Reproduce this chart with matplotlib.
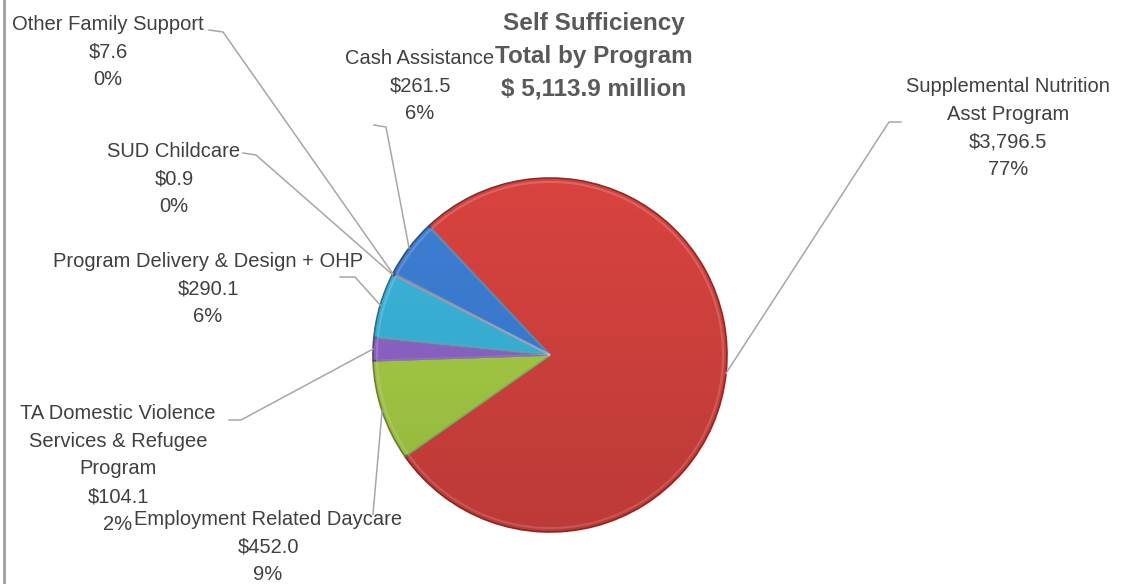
import numpy as np
import matplotlib.pyplot as plt
from matplotlib.patches import Circle
from matplotlib.colors import to_rgb

plt.rcParams['font.family'] = ['Liberation Sans', 'DejaVu Sans']

# ----- data -----
programs = ['Supplemental Nutrition\nAsst Program', 'Employment Related Daycare',
            'TA Domestic Violence\nServices & Refugee\nProgram', 'Program Delivery & Design + OHP',
            'SUD Childcare', 'Other Family Support', 'Cash Assistance']
amounts = [3796.5, 452.0, 104.1, 290.1, 0.9, 7.6, 261.5]
amount_labels = ['$3,796.5', '$452.0', '$104.1', '$290.1', '$0.9', '$7.6', '$261.5']
pct_labels = ['77%', '9%', '2%', '6%', '0%', '0%', '6%']
colours = ['#d8433f', '#a9d046', '#9066cc', '#3bb6dd', '#7fb2d0', '#4f86c6', '#3d80d6']
title = 'Self Sufficiency\nTotal by Program\n$ 5,113.9 million'

W, H = 1131, 584
def py(y):
    return H - y

fig = plt.figure(figsize=(W / 100, H / 100), dpi=100)
ax = fig.add_axes([0, 0, 1, 1])

cx, cy, r = 550, py(355), 177
wedges, _ = ax.pie(amounts, colors=colours, startangle=133.2, counterclock=False,
                   center=(cx, cy), radius=r,
                   wedgeprops=dict(linewidth=1.2, edgecolor='#5a5a5a'))
for w, c in zip(wedges, colours):
    dark = tuple(v * 0.65 for v in to_rgb(c))
    w.set_edgecolor(dark)

# soft shading over the pie (darker towards the bottom)
grad = np.linspace(0, 1, 256)
shade = np.zeros((256, 1, 4))
shade[:, 0, 3] = grad * 0.13
im = ax.imshow(shade, extent=(cx - r, cx + r, cy - r, cy + r), origin='upper',
               aspect='auto', zorder=3)
im.set_clip_path(Circle((cx, cy), r, transform=ax.transData))
# inner highlight ring for a bevelled look
ax.pie(amounts, startangle=133.2, counterclock=False, center=(cx, cy), radius=r * 0.978,
       wedgeprops=dict(fill=False, linewidth=1.5, edgecolor=(1, 1, 1, 0.18)))

ax.set_xlim(0, W)
ax.set_ylim(0, H)
ax.set_aspect('equal')
ax.axis('off')

# label placement: (text x, text y, elbow points in pixel coords)
label_pos = [
    (1008, 128, [(901, 122), (889, 122)]),
    (268, 547, [(373, 514)]),
    (118, 469, [(229, 420), (241, 420)]),
    (208, 289, [(340, 277), (355, 277)]),
    (174, 179, [(243, 153), (256, 155)]),
    (108, 52, [(209, 30), (223, 32)]),
    (420, 86, [(374, 125), (386, 127)]),
]

txt_col = '#404040'
line_col = '#a6a6a6'
for w, name, amt, pct, (tx, ty, elbow) in zip(wedges, programs, amount_labels, pct_labels, label_pos):
    ax.text(tx, py(ty), name + '\n' + amt + '\n' + pct, ha='center', va='center',
            fontsize=14.5, color=txt_col, linespacing=1.57, zorder=6)
    mid = np.deg2rad((w.theta1 + w.theta2) / 2)
    ex, ey = cx + r * np.cos(mid), cy + r * np.sin(mid)
    xs = [p[0] for p in elbow] + [ex]
    ys = [py(p[1]) for p in elbow] + [ey]
    ax.plot(xs, ys, color=line_col, linewidth=1.1, zorder=5)

ax.text(594, py(56), title, ha='center', va='center', fontsize=17.5, fontweight='bold',
        color='#595959', linespacing=1.53, zorder=6)

# left frame edge
ax.plot([4, 4], [0, H], color='#a0a0a0', linewidth=2, zorder=7)

fig.savefig('out.png', dpi=100)
